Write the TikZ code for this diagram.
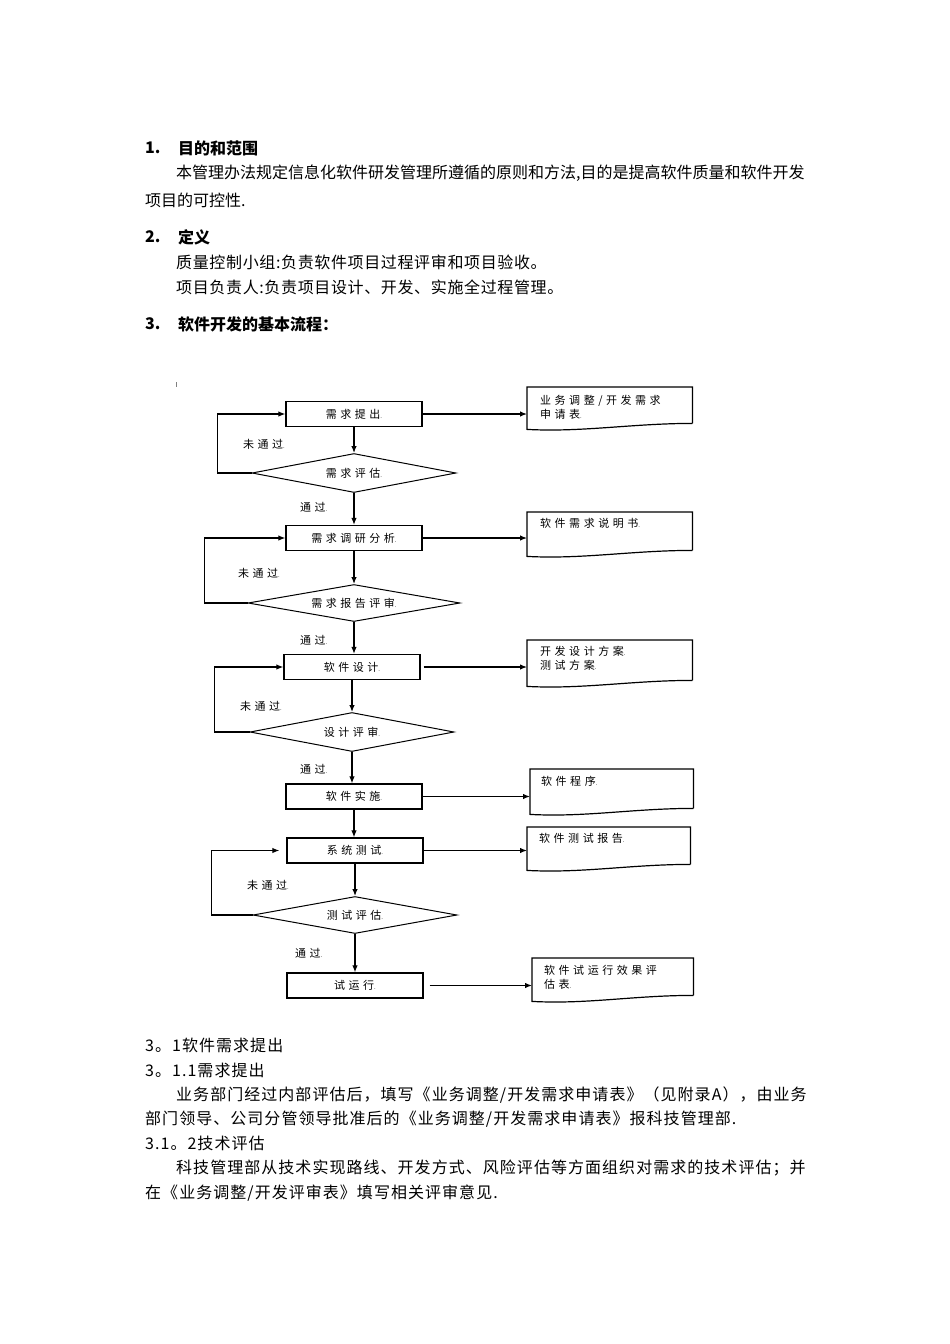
\documentclass[tikz,border=0pt]{standalone}
\usepackage{fontspec}
\setmainfont{Noto Sans CJK SC}
\newfontfamily\chartfont{Noto Sans CJK SC}[LetterSpace=32]
\newfontfamily\wideA{Noto Sans CJK SC}[LetterSpace=4]
\newfontfamily\wideB{Noto Sans CJK SC}[LetterSpace=6.5]
\usetikzlibrary{arrows.meta,shapes.geometric}
\newcommand\pmark{{\fontsize{6}{6}\selectfont .}}
\newcommand\docshape[1]{\draw[line width=1.2pt] (#1.south east) -- (#1.north east) -- (#1.north west) -- ([yshift=-6pt]#1.south west) .. controls +(55,3) and +(-60,0) .. (#1.south east);}
\begin{document}
\begin{tikzpicture}[x=1pt,y=-1pt,
 txt/.style={anchor=west,inner sep=0pt,font=\fontsize{16}{18}\selectfont},
 txta/.style={anchor=west,inner sep=0pt,font=\wideA\fontsize{16}{18}\selectfont},
 txtb/.style={anchor=west,inner sep=0pt,font=\wideB\fontsize{16}{18}\selectfont},
 hd/.style={anchor=west,inner sep=0pt,font=\fontsize{16}{18}\selectfont\bfseries},
 cf/.style={font=\chartfont\fontsize{11}{14}\selectfont},
 proc/.style={cf,draw,line width=1.3pt,minimum width=136pt,minimum height=25pt,inner sep=0pt},
 dec/.style={cf,draw,shape=diamond,line width=1pt,inner sep=0pt,aspect=5},
 lbl/.style={cf,anchor=west,inner sep=0pt},
 docbox/.style={inner sep=0pt,anchor=north west},
 doctext/.style={cf,anchor=north west,inner sep=0pt,align=left},
 arr/.style={line width=1.2pt,-{Latex[length=7pt,width=5.5pt]}}
]
\useasboundingbox (0,0) rectangle (950,1344);
\fill[white] (0,0) rectangle (950,1344);

% top text
\node[hd] (h1n) at (145,148) {1.};
\node[hd] (h1) at (178,148) {目的和范围};
\node[txt] (p1) at (176,173) {本管理办法规定信息化软件研发管理所遵循的原则和方法,目的是提高软件质量和软件开发};
\node[txt] (p2) at (145,200) {项目的可控性.};
\node[hd] (h2n) at (145,237) {2.};
\node[hd] (h2) at (178,237) {定义};
\node[txta] (p3) at (176,262) {质量控制小组:负责软件项目过程评审和项目验收。};
\node[txta] (p4) at (176,287) {项目负责人:负责项目设计、开发、实施全过程管理。};
\node[hd] (h3n) at (145,324) {3.};
\node[hd] (h3) at (178,324) {软件开发的基本流程：};

\draw[gray,line width=0.6pt] (176.5,382) -- (176.5,387);

% process boxes
\node[proc] (b1) at (354,414) {需求提出\pmark};
\node[proc] (b2) at (354,538) {需求调研分析\pmark};
\node[proc] (b3) at (352,667) {软件设计\pmark};
\node[proc] (b4) at (354,796.5) {软件实施\pmark};
\node[proc] (b5) at (355,850.5) {系统测试\pmark};
\node[proc] (b6) at (355,985.5) {试运行\pmark};

% decisions
\node[dec,minimum width=204pt,minimum height=39pt] (d1) at (354,473) {需求评估\pmark};
\node[dec,minimum width=212pt,minimum height=37pt] (d2) at (354,603) {需求报告评审\pmark};
\node[dec,minimum width=204pt,minimum height=39pt] (d3) at (352,732) {设计评审\pmark};
\node[dec,minimum width=204pt,minimum height=37pt] (d4) at (355,915) {测试评估\pmark};

% documents
\node[docbox,minimum width=165pt,minimum height=36pt] (doc1) at (527,387) {};
\node[docbox,minimum width=165pt,minimum height=38pt] (doc2) at (527,512) {};
\node[docbox,minimum width=165pt,minimum height=40pt] (doc3) at (527,640) {};
\node[docbox,minimum width=163pt,minimum height=39pt] (doc4) at (530,769) {};
\node[docbox,minimum width=163pt,minimum height=37pt] (doc5) at (527,827) {};
\node[docbox,minimum width=161pt,minimum height=37pt] (doc6) at (532,958) {};
\docshape{doc1}
\docshape{doc2}
\docshape{doc3}
\docshape{doc4}
\docshape{doc5}
\docshape{doc6}
\node[doctext] (t1) at (540,395) {业务调整/开发需求\\申请表\pmark};
\node[doctext] (t2) at (540,518) {软件需求说明书\pmark};
\node[doctext] (t3) at (540,646) {开发设计方案\pmark\\测试方案\pmark};
\node[doctext] (t4) at (541,776) {软件程序\pmark};
\node[doctext] (t5) at (539,833) {软件测试报告\pmark};
\node[doctext] (t6) at (544,965) {软件试运行效果评\\估表\pmark};

% labels
\node[lbl] (n1) at (243,444) {未通过\pmark};
\node[lbl] (n2) at (238,573) {未通过\pmark};
\node[lbl] (n3) at (240,706) {未通过\pmark};
\node[lbl] (n4) at (247,885) {未通过\pmark};
\node[lbl] (y1) at (300,507) {通过\pmark};
\node[lbl] (y2) at (300,640) {通过\pmark};
\node[lbl] (y3) at (300,769) {通过\pmark};
\node[lbl] (y4) at (295,953) {通过\pmark};

% vertical flow
\draw[arr] (b1) -- (d1);
\draw[arr] (d1) -- (b2);
\draw[arr] (b2) -- (d2);
\draw[arr] (d2) -- (d2 |- b3.north);
\draw[arr] (b3) -- (d3);
\draw[arr] (d3) -- (d3 |- b4.north);
\draw[arr] (b4) -- (b4 |- b5.north);
\draw[arr] (b5) -- (d4);
\draw[arr] (d4) -- (b6);

% loops
\draw[arr] (d1.west) -- ++(-34,0) |- (b1.west);
\draw[arr] (d2.west) -- ++(-43,0) |- (b2.west);
\draw[arr] (d3.west) -- ++(-35,0) |- (b3.west);
\draw[arr] (d4.west) -- ++(-41,0) |- ([xshift=-7pt]b5.west);

% outputs
\draw[arr] (b1.east) -- (b1.east -| doc1.west);
\draw[arr] (b2.east) -- (b2.east -| doc2.west);
\draw[arr] ([xshift=3pt]b3.east) -- (b3.east -| doc3.west);
\draw[arr] (b4.east) -- (b4.east -| doc4.west);
\draw[arr] (b5.east) -- (b5.east -| doc5.west);
\draw[arr] ([xshift=6pt]b6.east) -- (b6.east -| doc6.west);

% bottom text
\node[txtb] (q1) at (145,1045) {3。1软件需求提出};
\node[txtb] (q2) at (145,1070) {3。1.1需求提出};
\node[txtb] (q3) at (176,1095) {业务部门经过内部评估后，填写《业务调整/开发需求申请表》（见附录A），由业务};
\node[txtb] (q4) at (145,1119) {部门领导、公司分管领导批准后的《业务调整/开发需求申请表》报科技管理部.};
\node[txtb] (q5) at (145,1143) {3.1。2技术评估};
\node[txtb] (q6) at (176,1168) {科技管理部从技术实现路线、开发方式、风险评估等方面组织对需求的技术评估；并};
\node[txtb] (q7) at (145,1193) {在《业务调整/开发评审表》填写相关评审意见.};
\end{tikzpicture}
\end{document}
